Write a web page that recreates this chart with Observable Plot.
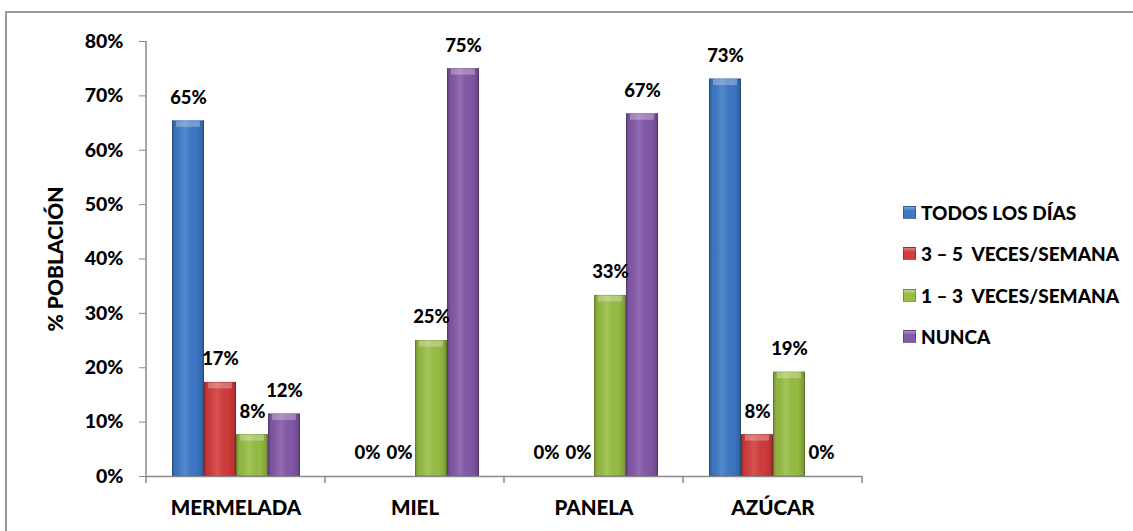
<!DOCTYPE html>
<html>
<head>
<meta charset="utf-8">
<script src="https://cdn.jsdelivr.net/npm/d3@7"></script>
<script src="https://cdn.jsdelivr.net/npm/@observablehq/plot@0.6"></script>
<style>
  html, body { margin: 0; padding: 0; background: #fff; }
  #wrap { position: relative; width: 1133px; height: 531px; overflow: hidden; font-family: Lato, "Open Sans", sans-serif; }
  #marco { position: absolute; left: 5px; top: 11px; width: 1200px; height: 600px;
           border-top: 2px solid #9a9a9a; border-left: 2px solid #9a9a9a; }
  #grafico { position: absolute; left: 0; top: 0; }
  #leyenda { position: absolute; left: 903px; top: 192px; font-weight: 900; font-size: 19px; color: #000; }
  #leyenda .fila { display: flex; align-items: center; height: 41.3px; white-space: pre; }
  #leyenda .muestra { width: 13px; height: 13px; margin-right: 5px; box-sizing: border-box; }
</style>
</head>
<body>
<div id="wrap">
  <div id="marco"></div>
  <div id="grafico"></div>
  <div id="leyenda"></div>
</div>
<script>
// Alimentos consultados
const categorias = ["MERMELADA", "MIEL", "PANELA", "AZÚCAR"];
// Frecuencia de consumo
const series = ["TODOS LOS DÍAS", "3 – 5  VECES/SEMANA", "1 – 3  VECES/SEMANA", "NUNCA"];
// Porcentaje de población por frecuencia (en el orden de categorias)
const todosLosDias = [65.4, 0, 0, 73.1];
const tresCincoVeces = [17.3, 0, 0, 7.7];
const unoTresVeces = [7.7, 25.0, 33.3, 19.2];
const nunca = [11.5, 75.0, 66.7, 0];
// Marcas del eje vertical
const marcasY = [0, 10, 20, 30, 40, 50, 60, 70, 80];
const colores = ["#3d79c7", "#d43c3c", "#98bf44", "#8459a9"];

const valoresPorSerie = [todosLosDias, tresCincoVeces, unoTresVeces, nunca];
const datos = [];
categorias.forEach((c, i) => {
  series.forEach((s, j) => {
    datos.push({categoria: c, serie: s, valor: valoresPorSerie[j][i]});
  });
});

const ejeColor = "#8a8a8a";

const chart = Plot.plot({
  width: 1133,
  height: 531,
  marginLeft: 144,
  marginRight: 270,
  marginTop: 41,
  marginBottom: 55,
  style: {fontFamily: "Lato, 'Open Sans', sans-serif", fontWeight: "900", color: "#000", background: "transparent"},
  fx: {domain: categorias, padding: 0, label: null},
  x: {domain: series, paddingInner: 0, paddingOuter: 24 / 33, axis: null},
  y: {domain: [0, 80], label: null},
  color: {domain: series, range: colores},
  marks: [
    Plot.axisY({
      ticks: marcasY, tickFormat: d => d + "%", tickSize: 7, tickPadding: 16,
      stroke: ejeColor, fontSize: 19.5, fontWeight: "900",
      label: "% POBLACIÓN", labelAnchor: "center", labelOffset: 98, labelArrow: "none"
    }),
    Plot.axisFx({anchor: "bottom", tickSize: 0, tickPadding: 24, fontSize: 20.5, fontWeight: "900", label: null}),
    Plot.barY(datos, {fx: "categoria", x: "serie", y: "valor", fill: "serie", inset: 0}),
    // brillo lateral de las columnas
    Plot.barY(datos, {fx: "categoria", x: "serie", y: "valor", fill: "url(#brillo)", inset: 0}),
    Plot.barY(datos, {fx: "categoria", x: "serie", y: "valor", fill: "none", stroke: "#000", strokeOpacity: 0.12, inset: 0.5}),
    // bisel superior
    Plot.tickY(datos.filter(d => d.valor > 0), {fx: "categoria", x: "serie", y: "valor", stroke: "#fff", strokeOpacity: 0.28, strokeWidth: 6, dy: 3, insetLeft: 4, insetRight: 4}),
    Plot.ruleY([0], {stroke: ejeColor, strokeWidth: 1.5}),
    Plot.text(datos, {
      fx: "categoria", x: "serie", y: "valor",
      text: d => Math.round(d.valor) + "%",
      dy: -23, fontSize: 18.5, fontWeight: "900", fill: "#000"
    })
  ]
});

// Degradado horizontal que da volumen a las columnas
const svg = d3.select(chart);
const defs = svg.insert("defs", ":first-child");
const grad = defs.append("linearGradient").attr("id", "brillo").attr("x1", 0).attr("x2", 1).attr("y1", 0).attr("y2", 0);
[[0, "#000", 0.28], [0.1, "#000", 0.06], [0.4, "#fff", 0.12], [0.75, "#000", 0.02], [0.92, "#000", 0.14], [1, "#000", 0.32]]
  .forEach(([o, c, a]) => grad.append("stop").attr("offset", o).attr("stop-color", c).attr("stop-opacity", a));

// Título del eje sin flecha
svg.selectAll("text").each(function() {
  const t = d3.select(this);
  if (t.text().includes("POBLACIÓN")) t.text("% POBLACIÓN").style("font-size", "21px");
});

// Línea del eje vertical y marcas entre categorías del eje horizontal
const fx = chart.scale("fx"), y = chart.scale("y");
const x0 = fx.apply(categorias[0]);
const y0 = y.apply(0), yTop = y.apply(80);
const lineas = svg.append("g").attr("stroke", ejeColor).attr("stroke-width", 1.5);
lineas.append("line").attr("x1", x0).attr("x2", x0).attr("y1", yTop).attr("y2", y0);
const bordes = categorias.map(c => fx.apply(c)).concat([fx.apply(categorias[categorias.length - 1]) + fx.bandwidth]);
bordes.forEach(bx => {
  lineas.append("line").attr("x1", bx).attr("x2", bx).attr("y1", y0).attr("y2", y0 + 7);
});

document.getElementById("grafico").appendChild(chart);

// Leyenda
const leyenda = d3.select("#leyenda");
series.forEach((s, i) => {
  const fila = leyenda.append("div").attr("class", "fila");
  fila.append("div").attr("class", "muestra")
    .style("background", `linear-gradient(180deg, rgba(255,255,255,0.35) 0%, rgba(255,255,255,0) 35%), ${colores[i]}`)
    .style("border", "1px solid rgba(0,0,0,0.25)");
  fila.append("span").text(s);
});
</script>
</body>
</html>
